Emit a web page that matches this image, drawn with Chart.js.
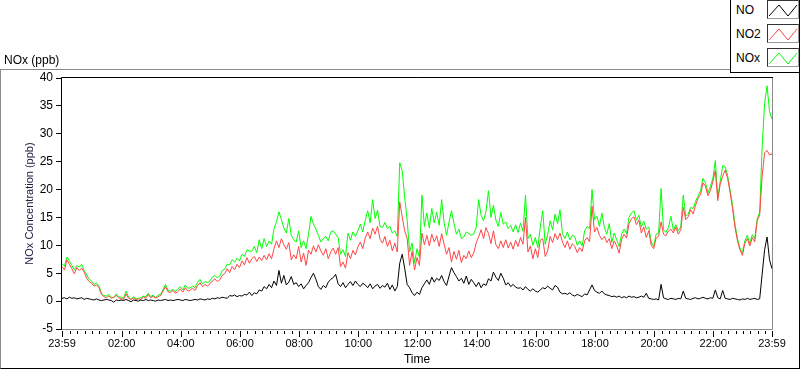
<!DOCTYPE html>
<html>
<head>
<meta charset="utf-8">
<title>NOx (ppb)</title>
<script src="https://cdn.jsdelivr.net/npm/chart.js@4.4.1/dist/chart.umd.min.js"></script>
<style>
  body { margin: 0; background: #fff; }
  #wrap { position: relative; width: 800px; height: 369px; overflow: hidden; font-family: "Liberation Sans", Arial, sans-serif; }
  #plot { position: absolute; left: 0; top: 0; }
  #frame { position: absolute; left: 0; top: 69px; width: 800px; height: 300px; box-sizing: border-box;
           border-left: 1px solid #8a8a8a; border-top: 1px solid #8a8a8a; border-right: 1px solid #000; border-bottom: 1px solid #000; }
  #caption { position: absolute; left: 4px; top: 53px; font-size: 12px; color: #000; }
  #legend { position: absolute; left: 730px; top: -1px; width: 70px; height: 74px; box-sizing: border-box; background: #fff;
            border-left: 1px solid #000; border-bottom: 1px solid #000; border-right: 1px solid #000; }
  .row { position: absolute; left: 0; width: 68px; height: 20px; }
  .row span { position: absolute; left: 5px; top: 3px; font-size: 12px; color: #000; }
  .row svg { position: absolute; left: 36px; top: 0; width: 32px; height: 19px; box-sizing: border-box;
             border-left: 1px solid #333; border-top: 1px solid #333; border-right: 1px solid #999; border-bottom: 1px solid #999; }
</style>
</head>
<body>
<div id="wrap">
  <div id="frame"></div>
  <canvas id="plot" width="800" height="369"></canvas>
  <div id="caption">NOx (ppb)</div>
  <div id="legend"></div>
</div>
<script>
// ----- data (5 minute samples from 23:59 to 23:59) ----- //
const SAMPLE_MIN = 5;

const seriesNames = ["NO", "NO2", "NOx"];
const seriesColors = ["#000000", "#ff4545", "#00ff00"];

const noValues = [
  0.5, 0.6, 0.4, 0.7, 0.5, 0.6, 0.4, 0.5, 0.6, 0.3, 0.5, 0.4,
  0.3, 0.2, 0.4, 0.2, 0.1, 0.2, 0.3, 0.2, 0.1, -0.2, 0.2, 0.1,
  0.2, 0.1, 0.3, 0.1, -0.1, 0.2, 0.1, 0.0, 0.2, 0.1, 0.3, 0.1,
  0.2, 0.1, 0.0, 0.2, 0.1, 0.2, 0.3, 0.1, 0.2, 0.1, 0.2, 0.3,
  0.2, 0.1, 0.3, 0.2, 0.1, 0.2, 0.3, 0.2, 0.4, 0.3, 0.2, 0.4,
  0.3, 0.5, 0.4, 0.6, 0.5, 0.7, 0.6, 0.5, 1.0, 0.9, 1.1, 0.8,
  1.0, 0.9, 1.2, 1.1, 1.6, 1.0, 1.5, 1.3, 2.0, 1.8, 2.6, 2.2,
  3.0, 2.4, 3.6, 2.8, 5.5, 3.2, 4.6, 2.9, 3.4, 4.4, 3.0, 3.3,
  2.6, 3.1, 2.2, 2.8, 3.3, 4.2, 5.0, 3.9, 2.6, 2.1, 2.8, 2.4,
  3.4, 3.9, 4.2, 4.8, 3.1, 2.6, 3.3, 2.4, 3.0, 3.5, 2.8, 3.6,
  3.0, 2.6, 3.2, 2.9, 2.4, 3.1, 2.2, 2.7, 3.0, 2.3, 2.8, 2.5,
  3.2, 2.1, 2.9, 1.8, 2.6, 6.8, 8.4, 5.9, 3.0, 2.4, 1.5, 1.0,
  1.6, 1.2, 2.4, 3.1, 3.8, 3.0, 4.3, 3.4, 4.1, 3.7, 4.6, 3.5,
  2.8, 4.5, 6.0, 5.1, 4.4, 3.6, 4.1, 3.2, 4.5, 3.0, 3.9, 3.3,
  2.6, 3.4, 2.4, 3.1, 2.8, 4.0, 3.6, 5.2, 4.3, 3.7, 5.0, 4.1,
  2.9, 3.3, 2.6, 3.0, 2.5, 2.3, 2.4, 2.0, 2.6, 2.1, 1.8, 2.2,
  1.8, 1.6, 2.0, 2.4, 2.2, 2.7, 2.3, 2.0, 2.8, 2.5, 1.6, 1.3,
  1.4, 1.2, 1.5, 1.1, 0.9, 1.2, 1.0, 0.8, 1.3, 1.1, 2.0, 2.9,
  1.9, 1.6, 1.4, 1.8, 1.3, 1.1, 1.0, 0.8, 0.9, 0.7, 0.9, 0.6,
  0.8, 0.6, 0.9, 0.7, 0.8, 0.6, 0.7, 0.9, 0.7, 1.4, 0.5, 0.4,
  0.3, 0.4, 0.2, 3.0, 0.6, 0.4, 0.3, 0.5, 0.4, 0.3, 0.5, 0.4,
  1.8, 0.5, 0.4, 0.3, 0.5, 0.6, 0.4, 0.5, 0.7, 0.5, 0.4, 0.6,
  0.5, 2.0, 0.6, 0.4, 1.9, 0.5, 0.4, 0.3, 0.5, 0.4, 0.3, 0.2,
  0.4, 0.3, 0.5, 0.3, 0.4, 0.5, 0.3, 0.4, 4.8, 9.2, 11.5, 7.4,
  5.8
];

const no2Values = [
  6.2, 5.6, 7.4, 6.6, 5.8, 4.9, 6.0, 5.5, 5.9, 5.2, 4.1, 3.5,
  3.2, 2.7, 2.9, 2.4, 1.2, 0.8, 0.6, 0.9, 0.5, 0.7, 1.0, 0.6,
  0.4, 0.3, 1.3, 0.5, 0.3, 0.6, 0.2, 0.4, 0.3, 0.8, 0.5, 1.2,
  0.6, 0.9, 0.5, 0.8, 1.0, 1.8, 2.6, 1.7, 1.5, 1.9, 1.4, 1.7,
  2.2, 1.6, 2.4, 1.8, 2.0, 2.3, 1.9, 2.8, 3.3, 2.6, 3.0, 2.7,
  3.1, 3.6, 4.0, 3.5, 3.8, 4.6, 4.9, 5.8, 5.1, 6.2, 5.6, 6.6,
  6.0, 7.2, 6.5, 7.8, 6.8, 7.6, 8.0, 7.1, 7.9, 7.3, 8.2, 7.4,
  8.5, 7.6, 9.4, 10.8, 9.6, 11.2, 10.1, 9.3, 10.5, 7.4, 8.3, 7.6,
  9.8, 7.0, 8.6, 6.4, 9.1, 8.4, 9.9, 8.8, 10.1, 9.0, 8.2, 9.4,
  7.6, 8.8, 9.5, 8.4, 9.6, 6.2, 7.0, 5.9, 8.7, 7.6, 9.1, 8.3,
  9.7, 10.6, 9.4, 11.3, 12.4, 11.2, 13.1, 12.0, 13.4, 11.1, 10.4, 11.6,
  9.8, 10.9, 9.0, 10.4, 8.8, 17.8, 15.1, 12.6, 11.3, 6.4, 8.9, 5.6,
  7.8, 6.4, 12.2, 10.1, 11.8, 9.9, 12.0, 10.6, 11.7, 9.8, 12.1, 10.2,
  8.4, 9.6, 7.0, 8.9, 7.5, 9.1, 6.9, 8.2, 7.6, 9.0, 7.8, 8.6,
  10.4, 11.5, 12.8, 11.2, 13.2, 12.1, 10.3, 12.6, 10.1, 9.4, 10.8, 9.6,
  11.0, 9.5, 10.6, 9.3, 10.9, 9.8, 11.4, 10.2, 15.0, 8.8, 9.9, 7.6,
  9.4, 7.8, 10.9, 11.2, 8.0, 9.0, 11.6, 10.5, 12.1, 11.0, 12.2, 10.6,
  9.6, 10.8, 9.3, 10.3, 9.8, 8.7, 9.6, 8.9, 10.8, 11.4, 10.6, 17.0,
  12.4, 13.2, 11.8, 11.0, 11.6, 10.5, 11.2, 9.4, 10.8, 9.9, 8.6, 11.1,
  12.0, 11.3, 13.9, 14.8, 15.1, 13.7, 14.5, 12.2, 13.3, 11.4, 12.6, 10.0,
  9.4, 11.3, 11.6, 14.2, 12.0, 11.7, 12.6, 12.9, 12.2, 13.3, 12.0, 12.8,
  16.8, 14.6, 15.1, 16.4, 15.6, 17.2, 18.4, 19.1, 21.2, 20.6, 18.9, 19.8,
  21.4, 23.4, 18.0, 21.0, 22.4, 23.5, 22.0, 19.5, 16.6, 13.2, 10.8, 9.2,
  8.2, 10.4, 11.2, 9.9, 11.4, 10.6, 14.4, 15.4, 22.3, 26.6, 27.0, 26.2,
  26.4
];

const noxValues = [
  6.7, 6.3, 7.9, 7.2, 6.4, 5.6, 6.4, 6.1, 6.6, 5.5, 4.7, 3.9,
  3.6, 3.0, 3.3, 2.7, 1.4, 1.0, 0.9, 1.2, 0.7, 0.6, 1.3, 0.8,
  0.7, 0.5, 1.8, 0.7, 0.3, 0.8, 0.4, 0.5, 0.6, 0.9, 0.8, 1.4,
  0.8, 1.1, 0.6, 1.1, 1.2, 2.1, 3.0, 1.9, 1.8, 2.1, 1.7, 2.2,
  2.6, 2.0, 2.9, 2.3, 2.4, 2.7, 2.4, 3.4, 3.9, 3.1, 3.5, 3.3,
  3.6, 4.3, 4.6, 4.2, 4.5, 5.5, 5.7, 6.6, 6.5, 7.4, 7.0, 7.7,
  7.2, 8.4, 8.0, 9.2, 9.0, 8.9, 9.8, 8.7, 11.0, 9.4, 11.2, 9.8,
  10.8, 10.2, 13.0, 14.2, 16.0, 14.6, 13.1, 12.2, 14.8, 11.8, 11.0, 10.6,
  12.6, 9.6, 10.8, 9.4, 12.0, 15.2, 13.8, 12.9, 11.8, 10.6, 11.2, 11.6,
  10.8, 12.4, 12.6, 12.0, 11.4, 8.4, 9.2, 8.0, 12.2, 10.9, 12.4, 11.6,
  12.6, 13.8, 12.4, 14.5, 16.2, 14.0, 18.2, 14.8, 16.3, 13.4, 13.2, 14.1,
  13.0, 13.4, 12.2, 12.6, 11.6, 24.8, 23.4, 18.6, 14.6, 8.8, 10.4, 6.8,
  9.4, 7.8, 19.0, 13.4, 15.8, 13.1, 16.6, 14.0, 15.9, 13.6, 18.2, 14.0,
  11.8, 14.2, 16.2, 13.9, 12.0, 12.9, 11.2, 11.5, 12.4, 12.1, 11.8, 12.0,
  13.2, 18.2, 15.4, 14.4, 16.1, 19.8, 15.0, 17.2, 14.5, 13.4, 15.9, 13.8,
  14.2, 13.0, 13.6, 12.4, 13.7, 12.3, 14.0, 12.5, 19.0, 11.2, 12.0, 10.0,
  11.4, 9.6, 13.2, 16.2, 10.2, 11.9, 14.4, 12.8, 15.6, 13.9, 16.4, 12.1,
  11.2, 12.4, 11.0, 11.8, 11.6, 10.0, 10.8, 9.9, 12.6, 13.4, 13.0, 20.0,
  14.6, 15.2, 13.4, 15.8, 13.2, 12.0, 13.9, 10.5, 12.2, 11.0, 9.8, 12.0,
  12.9, 12.1, 15.0, 15.8, 16.2, 14.5, 15.4, 13.3, 14.3, 12.9, 13.3, 10.6,
  9.8, 12.0, 12.2, 20.2, 12.8, 12.3, 13.2, 15.2, 12.7, 13.7, 12.6, 13.3,
  19.0, 15.2, 15.6, 16.8, 16.6, 17.9, 18.8, 19.8, 22.0, 21.2, 19.4, 20.5,
  22.0, 25.2, 18.6, 21.5, 24.3, 24.1, 22.5, 19.9, 17.2, 13.7, 11.2, 9.5,
  8.7, 10.8, 11.8, 10.3, 11.9, 11.2, 14.8, 15.9, 27.6, 35.4, 38.6, 34.0,
  32.6
];

// x axis: minutes after 23:59
const tickLabels = ["23:59", "02:00", "04:00", "06:00", "08:00", "10:00", "12:00",
                    "14:00", "16:00", "18:00", "20:00", "22:00", "23:59"];
const tickMinutes = [0, 121, 241, 361, 481, 601, 721, 841, 961, 1081, 1201, 1321, 1440];
const yTicks = [-5, 0, 5, 10, 15, 20, 25, 30, 35, 40];

function toPoints(values) {
  return values.map((v, i) => ({ x: i * SAMPLE_MIN, y: v }));
}

// ----- frame + tick marks that LabVIEW draws ----- //
const framePlugin = {
  id: "frame",
  afterDraw(chart) {
    const ctx = chart.ctx;
    const a = chart.chartArea;
    const xs = chart.scales.x;
    ctx.save();
    ctx.lineWidth = 1;

    // x tick marks: minor every 15 min, major at labels
    ctx.strokeStyle = "#000";
    ctx.beginPath();
    for (let m = 16; m < 1440; m += 15) {
      const px = Math.round(xs.getPixelForValue(m)) + 0.5;
      ctx.moveTo(px, a.bottom + 2);
      ctx.lineTo(px, a.bottom + 5);
    }
    tickMinutes.forEach((m) => {
      const px = Math.round(xs.getPixelForValue(m)) + 0.5;
      ctx.moveTo(px, a.bottom + 2);
      ctx.lineTo(px, a.bottom + 8);
    });
    ctx.stroke();

    // plot border: dark top/left, grey bottom/right
    ctx.strokeStyle = "#000";
    ctx.beginPath();
    ctx.moveTo(a.left - 0.5, a.bottom + 1);
    ctx.lineTo(a.left - 0.5, a.top - 0.5);
    ctx.lineTo(a.right + 1, a.top - 0.5);
    ctx.stroke();
    ctx.strokeStyle = "#8a8a8a";
    ctx.beginPath();
    ctx.moveTo(a.left, a.bottom + 0.5);
    ctx.lineTo(a.right + 0.5, a.bottom + 0.5);
    ctx.lineTo(a.right + 0.5, a.top);
    ctx.stroke();
    ctx.restore();
  },
};

Chart.defaults.font.family = '"Liberation Sans", Arial, sans-serif';
Chart.defaults.font.size = 11;
Chart.defaults.color = "#000";

const valueLists = [noValues, no2Values, noxValues];

const chart = new Chart(document.getElementById("plot").getContext("2d"), {
  type: "line",
  data: {
    datasets: seriesNames.map((name, i) => ({
      label: name,
      data: toPoints(valueLists[i]),
      borderColor: seriesColors[i],
      borderWidth: 1,
      pointRadius: 0,
      tension: 0,
      fill: false,
    })),
  },
  options: {
    responsive: false,
    animation: false,
    events: [],
    layout: { padding: { left: 0, top: 78, right: 28, bottom: 0 } },
    plugins: { legend: { display: false }, tooltip: { enabled: false } },
    scales: {
      x: {
        type: "linear",
        min: 0,
        max: 1440,
        afterFit: (scale) => { scale.height = 40; },
        afterBuildTicks: (scale) => { scale.ticks = tickMinutes.map((v) => ({ value: v })); },
        ticks: {
          autoSkip: false,
          maxRotation: 0,
          padding: 8,
          callback: (value) => tickLabels[tickMinutes.indexOf(value)],
        },
        grid: { display: true, drawOnChartArea: false, drawTicks: false },
        border: { display: false },
        title: { display: true, text: "Time", font: { size: 12 }, padding: { top: 0, bottom: 2 } },
      },
      y: {
        min: -5,
        max: 40,
        afterFit: (scale) => { scale.width = 62; },
        afterBuildTicks: (scale) => { scale.ticks = yTicks.map((v) => ({ value: v })); },
        ticks: { padding: 3, font: { size: 12 } },
        grid: { drawOnChartArea: false, drawTicks: true, tickLength: 6, tickColor: "#000" },
        border: { display: false },
        title: { display: true, text: "NOx Concentration (ppb)", color: "#161a3c", font: { size: 11 }, padding: { top: 23, bottom: 0 } },
      },
    },
  },
  plugins: [framePlugin],
});

// ----- legend box (top right) ----- //
const legend = document.getElementById("legend");
chart.data.datasets.forEach((ds, i) => {
  const row = document.createElement("div");
  row.className = "row";
  row.style.top = (1 + i * 24) + "px";
  row.innerHTML = `<span>${ds.label}</span>
    <svg viewBox="0 0 30 17"><polyline points="1,15 11,4 20,15 29,4" fill="none" stroke="${ds.borderColor}" stroke-width="1"/></svg>`;
  legend.appendChild(row);
});
</script>
</body>
</html>
